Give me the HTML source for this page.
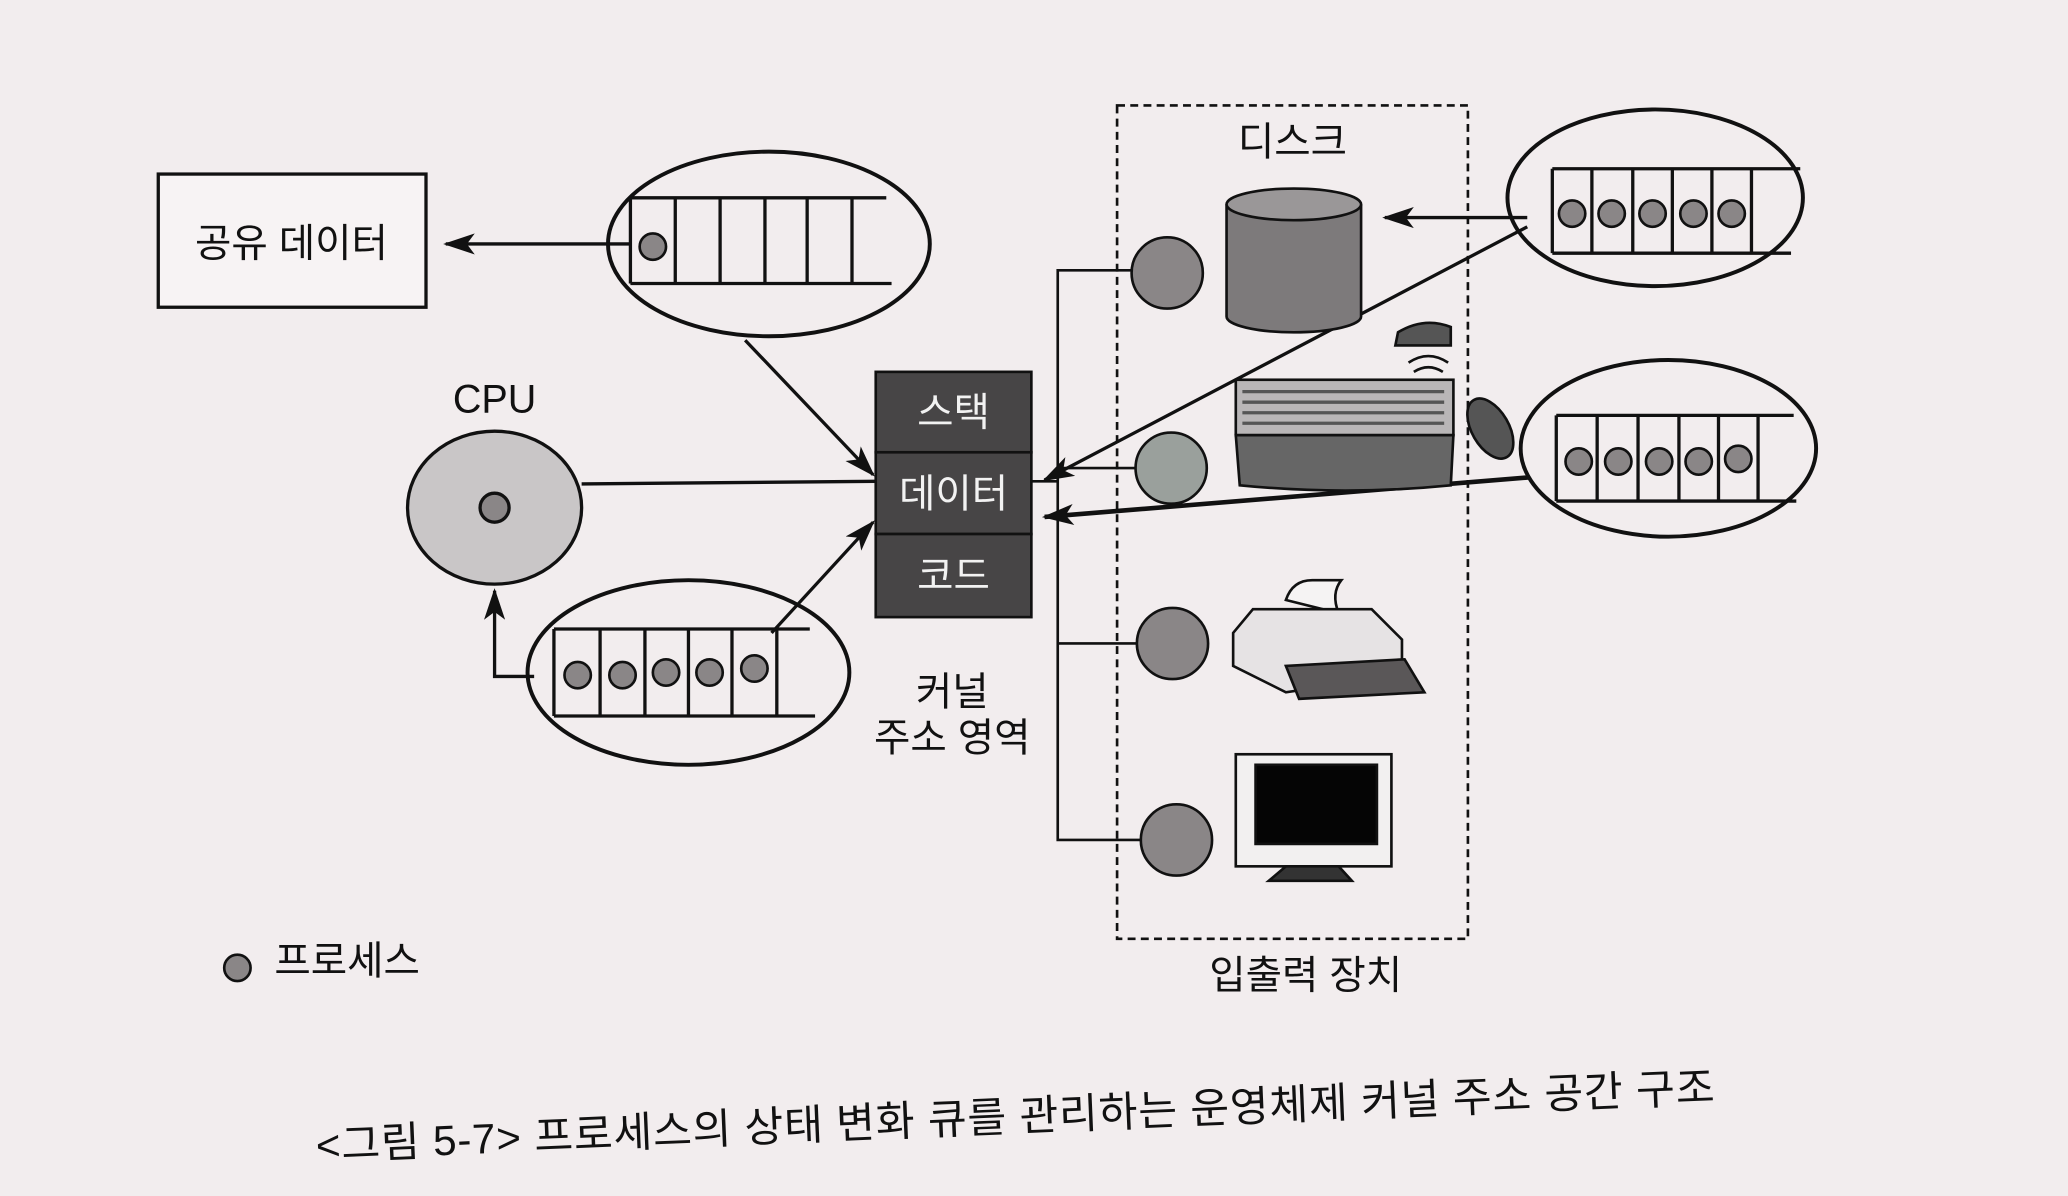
<!DOCTYPE html>
<html><head><meta charset="utf-8"><style>
html,body{margin:0;padding:0;background:#f2edee;}
svg{display:block}
text{font-family:"Liberation Sans","Noto Sans CJK KR",sans-serif;fill:#111}
</style></head><body>
<svg width="2068" height="1196" viewBox="0 0 1568 907" preserveAspectRatio="none" xmlns="http://www.w3.org/2000/svg">
<defs>
<marker id="ahb" markerWidth="24" markerHeight="16" refX="22" refY="8" orient="auto" markerUnits="userSpaceOnUse">
<path d="M0,0 L24,8 L0,16 L6,8 z" fill="#111"/></marker>
</defs>
<rect width="1568" height="907" fill="#f2edee"/>
<g stroke="#111" fill="none" stroke-width="2.5">
<rect x="120" y="132" width="203" height="101" fill="#f7f3f4"/>
<ellipse cx="583" cy="185" rx="122" ry="70" stroke-width="3"/>
<line x1="478" y1="150" x2="672" y2="150"/>
<line x1="478" y1="215" x2="676" y2="215"/>
<line x1="478" y1="150" x2="478" y2="215"/><line x1="512" y1="150" x2="512" y2="215"/>
<line x1="546" y1="150" x2="546" y2="215"/><line x1="580" y1="150" x2="580" y2="215"/>
<line x1="612" y1="150" x2="612" y2="215"/><line x1="646" y1="150" x2="646" y2="215"/>
<line x1="478" y1="185" x2="338" y2="185" marker-end="url(#ahb)"/>
<line x1="565" y1="258" x2="662" y2="360" marker-end="url(#ahb)"/>
<ellipse cx="375" cy="385" rx="66" ry="58" fill="#c9c6c7"/>
<circle cx="375" cy="385" r="11" fill="#8a8687"/>
<line x1="441" y1="367" x2="664" y2="365"/>
<ellipse cx="522" cy="510" rx="122" ry="70" stroke-width="3"/>
<line x1="420" y1="477" x2="614" y2="477"/>
<line x1="420" y1="543" x2="618" y2="543"/>
<line x1="420" y1="477" x2="420" y2="543"/><line x1="455" y1="477" x2="455" y2="543"/>
<line x1="489" y1="477" x2="489" y2="543"/><line x1="522" y1="477" x2="522" y2="543"/>
<line x1="555" y1="477" x2="555" y2="543"/><line x1="589" y1="477" x2="589" y2="543"/>
<polyline points="405,513 375,513 375,448" marker-end="url(#ahb)"/>
<line x1="585" y1="480" x2="662" y2="396" marker-end="url(#ahb)"/>
<rect x="847" y="80" width="266" height="632" stroke-dasharray="6,4" stroke-width="2"/>
<polyline points="858,205 802,205 802,637 866,637" stroke-width="2"/>
<line x1="802" y1="355" x2="862" y2="355" stroke-width="2"/>
<line x1="802" y1="488" x2="862" y2="488" stroke-width="2"/>
<line x1="782" y1="365" x2="802" y2="365" stroke-width="2"/>
<ellipse cx="1255" cy="150" rx="112" ry="67" stroke-width="3"/>
<line x1="1177" y1="128" x2="1365" y2="128"/>
<line x1="1177" y1="192" x2="1358" y2="192"/>
<line x1="1177" y1="128" x2="1177" y2="192"/><line x1="1207" y1="128" x2="1207" y2="192"/>
<line x1="1238" y1="128" x2="1238" y2="192"/><line x1="1268" y1="128" x2="1268" y2="192"/>
<line x1="1298" y1="128" x2="1298" y2="192"/><line x1="1328" y1="128" x2="1328" y2="192"/>
<ellipse cx="1265" cy="340" rx="112" ry="67" stroke-width="3"/>
<line x1="1180" y1="315" x2="1360" y2="315"/>
<line x1="1180" y1="380" x2="1362" y2="380"/>
<line x1="1180" y1="315" x2="1180" y2="380"/><line x1="1211" y1="315" x2="1211" y2="380"/>
<line x1="1242" y1="315" x2="1242" y2="380"/><line x1="1273" y1="315" x2="1273" y2="380"/>
<line x1="1303" y1="315" x2="1303" y2="380"/><line x1="1333" y1="315" x2="1333" y2="380"/>
<line x1="1158" y1="165" x2="1050" y2="165" marker-end="url(#ahb)"/>
<line x1="1158" y1="172" x2="792" y2="364" stroke-width="2.5" marker-end="url(#ahb)"/>
<line x1="1160" y1="362" x2="792" y2="392" stroke-width="3.5" marker-end="url(#ahb)"/>
</g>
<g stroke="#111" stroke-width="2" fill="#474546">
<rect x="664" y="282" width="118" height="61"/>
<rect x="664" y="343" width="118" height="62"/>
<rect x="664" y="405" width="118" height="63"/>
</g>
<g font-size="30" text-anchor="middle">
<text x="723" y="323" style="fill:#f2f2f2">스택</text>
<text x="723" y="385" style="fill:#f2f2f2">데이터</text>
<text x="723" y="447" style="fill:#f2f2f2">코드</text>
</g>
<g fill="#8a8687" stroke="#111" stroke-width="2">
<circle cx="495" cy="187" r="10"/>
<circle cx="438" cy="512" r="10"/><circle cx="472" cy="512" r="10"/><circle cx="505" cy="510" r="10"/><circle cx="538" cy="510" r="10"/><circle cx="572" cy="507" r="10"/>
<circle cx="1192" cy="162" r="10"/><circle cx="1222" cy="162" r="10"/><circle cx="1253" cy="162" r="10"/><circle cx="1284" cy="162" r="10"/><circle cx="1313" cy="162" r="10"/>
<circle cx="1197" cy="350" r="10"/><circle cx="1227" cy="350" r="10"/><circle cx="1258" cy="350" r="10"/><circle cx="1288" cy="350" r="10"/><circle cx="1318" cy="348" r="10"/>
<circle cx="885" cy="207" r="27"/><circle cx="888" cy="355" r="27" fill="#9aa09c"/><circle cx="889" cy="488" r="27"/><circle cx="892" cy="637" r="27"/>
<circle cx="180" cy="734" r="10"/>
</g>
<g stroke="#111" stroke-width="2">
<path d="M930,155 L930,240 A51,12 0 0 0 1032,240 L1032,155" fill="#7d7a7b"/>
<ellipse cx="981" cy="155" rx="51" ry="12" fill="#9a9798"/>
</g>
<g stroke="#111" stroke-width="2">
<path d="M1060,252 Q1080,240 1100,248 L1100,262 L1058,262 z" fill="#555"/>
<path d="M1068,275 q15,-10 30,0 M1072,282 q11,-7 22,0" fill="none"/>
<rect x="937" y="288" width="165" height="42" fill="#b9b6b7"/>
<path d="M937,330 L1102,330 L1100,368 Q1020,376 940,368 z" fill="#666"/>
<ellipse cx="1130" cy="325" rx="14" ry="25" fill="#555" transform="rotate(-30 1130 325)"/>
</g>
<g stroke="#555" stroke-width="2.5">
<line x1="942" y1="297" x2="1095" y2="297"/><line x1="942" y1="305" x2="1095" y2="305"/>
<line x1="942" y1="313" x2="1095" y2="313"/><line x1="942" y1="321" x2="1095" y2="321"/>
</g>
<g stroke="#111" stroke-width="2">
<path d="M975,455 q5,-15 20,-15 l22,0 q-8,10 -2,25 z" fill="#f5f3f3"/>
<path d="M935,480 L950,462 L1040,462 L1063,485 L1063,512 L975,525 L935,505 z" fill="#e6e3e4"/>
<path d="M975,505 L1065,500 L1080,525 L985,530 z" fill="#5a5758"/>
</g>
<g stroke="#111" stroke-width="2">
<rect x="937" y="572" width="118" height="85" fill="#f2f0f0"/>
<rect x="952" y="580" width="92" height="60" fill="#050505"/>
<path d="M975,657 L1015,657 L1025,668 L962,668 z" fill="#333"/>
</g>
<g font-size="30">
<text x="221" y="195" text-anchor="middle">공유 데이터</text>
<text x="375" y="313" text-anchor="middle">CPU</text>
<text x="722" y="535" text-anchor="middle">커널</text>
<text x="722" y="570" text-anchor="middle">주소 영역</text>
<text x="980" y="118" text-anchor="middle">디스크</text>
<text x="208" y="739">프로세스</text>
<text x="990" y="750" text-anchor="middle">입출력 장치</text>
<text x="240" y="880" transform="rotate(-2.4 240 880)" font-size="32" letter-spacing="0.6">&lt;그림 5-7&gt; 프로세스의 상태 변화 큐를 관리하는 운영체제 커널 주소 공간 구조</text>
</g>
</svg>
</body></html>
